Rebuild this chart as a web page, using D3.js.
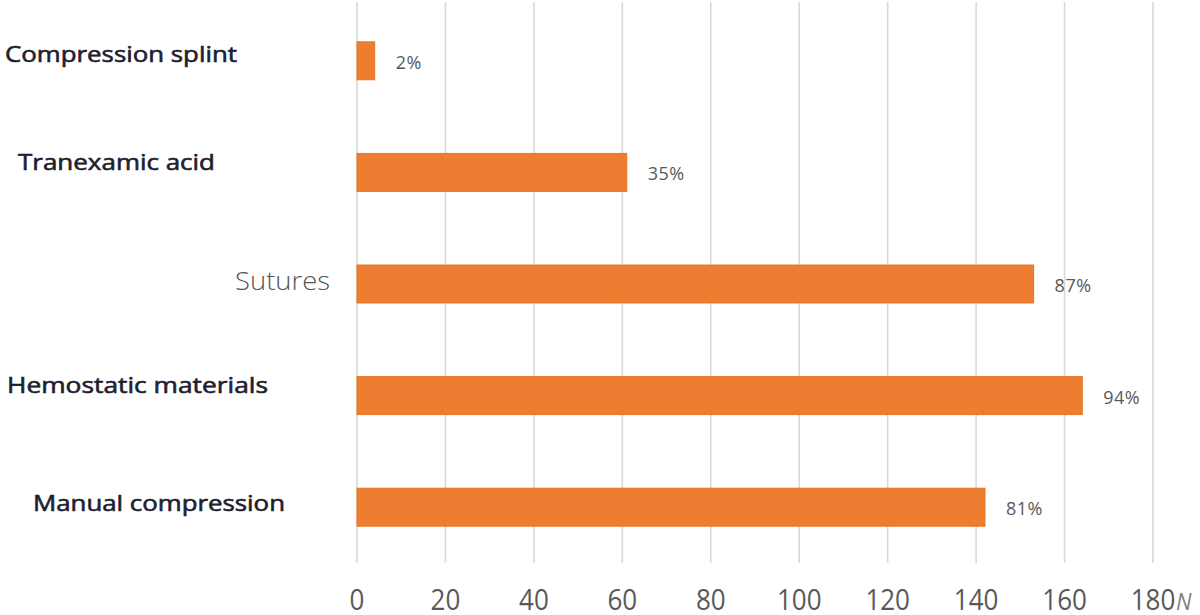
<!DOCTYPE html>
<html>
<head>
<meta charset="utf-8">
<script src="https://cdn.jsdelivr.net/npm/d3@7"></script>
<style>
  html, body { margin: 0; padding: 0; background: #fff; }
  svg { display: block; }
</style>
</head>
<body>
<svg id="chart" width="1200" height="615"></svg>
<script>
// ---- data ----
const categories = ["Compression splint", "Tranexamic acid", "Sutures", "Hemostatic materials", "Manual compression"];
const counts = [4, 61, 153, 164, 142];
const percentLabels = ["2%", "35%", "87%", "94%", "81%"];
const xTicks = [0, 20, 40, 60, 80, 100, 120, 140, 160, 180];
const xAxisUnit = "N";

// ---- layout (not data) ----
const labelLayout = [
  { anchor: "start", x: 5,   dy: -7,  size: 22, weight: 400, color: "#1e1e30", stroke: 0.6, width: 232 },
  { anchor: "start", x: 18,  dy: -10, size: 22, weight: 400, color: "#1e1e30", stroke: 0.6, width: 197 },
  { anchor: "end",   x: 330, dy: -3,  size: 26, weight: 300, color: "#555",    stroke: 0,   width: 95 },
  { anchor: "start", x: 7,   dy: -10, size: 22, weight: 400, color: "#1e1e30", stroke: 0.6, width: 261 },
  { anchor: "start", x: 33,  dy: -4,  size: 22, weight: 400, color: "#1e1e30", stroke: 0.6, width: 252 }
];

(function () {
const svg = d3.select("#chart");
const mLeft = 357, mRight = 1153, mTop = 5, mBottom = 563, axisBase = 610;

const x = d3.scaleLinear().domain([0, 180]).range([mLeft, mRight]);
const y = d3.scaleBand().domain(categories).range([mTop, mBottom]).paddingInner(0.66).paddingOuter(0.33);

// gridlines
svg.append("g").selectAll("line").data(xTicks).join("line")
  .attr("x1", d => x(d)).attr("x2", d => x(d))
  .attr("y1", 2).attr("y2", mBottom)
  .attr("stroke", "#d9d9d9").attr("stroke-width", 1.6);

// x axis tick labels via d3 axis
const xAxis = d3.axisBottom(x).tickValues(xTicks).tickSize(0).tickPadding(0).tickFormat(d3.format("d"));
const gx = svg.append("g").call(xAxis);
gx.select(".domain").remove();
gx.selectAll(".tick").attr("transform", d => `translate(${x(d)}, ${axisBase}) scale(1,1.15)`);
gx.selectAll(".tick text")
  .attr("y", 0).attr("dy", 0)
  .attr("fill", "#595959")
  .style("font-family", "'Open Sans', sans-serif")
  .style("font-size", "26px");

// unit label N
svg.append("text")
  .attr("transform", `translate(1176, ${axisBase}) scale(1,1.1)`)
  .style("font-family", "'Open Sans', sans-serif")
  .style("font-size", "22px").style("font-style", "italic")
  .attr("fill", "#7f7f7f")
  .text(xAxisUnit);

// bars
svg.append("g").selectAll("rect").data(categories).join("rect")
  .attr("x", x(0))
  .attr("y", d => y(d))
  .attr("width", (d, i) => x(counts[i]) - x(0))
  .attr("height", y.bandwidth())
  .attr("fill", "#ED7D31")
  .attr("stroke", "#E8731F").attr("stroke-width", 1);

// percent labels
svg.append("g").selectAll("text").data(categories).join("text")
  .attr("x", (d, i) => x(counts[i]) + 21)
  .attr("y", d => y(d) + y.bandwidth() / 2 + 8)
  .style("font-family", "'Open Sans', sans-serif")
  .style("font-size", "18px")
  .style("letter-spacing", "0.5px")
  .attr("fill", "#595959")
  .text((d, i) => percentLabels[i]);

// category labels
svg.append("g").selectAll("text").data(categories).join("text")
  .attr("x", (d, i) => labelLayout[i].x)
  .attr("y", d => y(d) + y.bandwidth() / 2)
  .attr("dy", (d, i) => labelLayout[i].dy + labelLayout[i].size * 0.35)
  .attr("text-anchor", (d, i) => labelLayout[i].anchor)
  .attr("textLength", (d, i) => labelLayout[i].width)
  .attr("lengthAdjust", "spacingAndGlyphs")
  .style("font-family", "'Open Sans', sans-serif")
  .style("font-size", (d, i) => labelLayout[i].size + "px")
  .style("font-weight", (d, i) => labelLayout[i].weight)
  .attr("fill", (d, i) => labelLayout[i].color)
  .attr("stroke", (d, i) => labelLayout[i].stroke ? labelLayout[i].color : "none")
  .attr("stroke-width", (d, i) => labelLayout[i].stroke)
  .text(d => d);
})();
</script>
</body>
</html>
